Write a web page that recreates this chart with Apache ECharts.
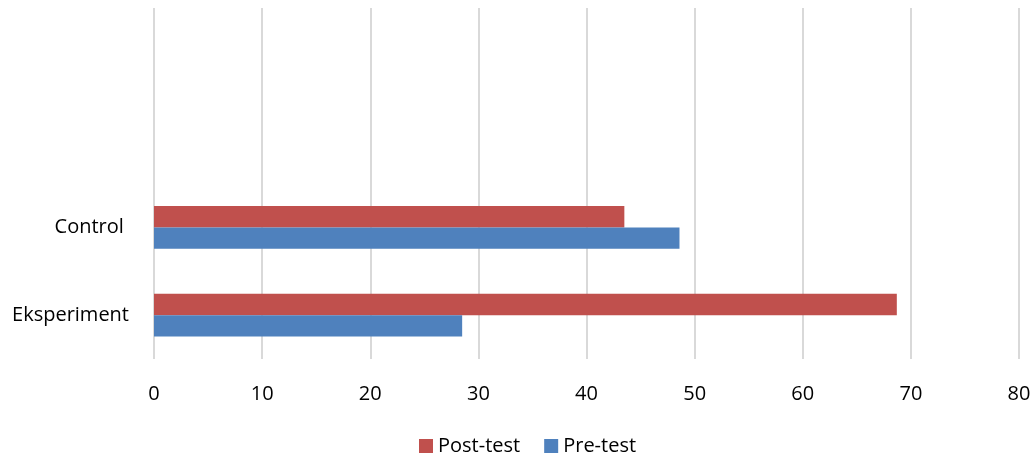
<!DOCTYPE html>
<html>
<head>
<meta charset="utf-8">
<script src="https://cdn.jsdelivr.net/npm/echarts@6/dist/echarts.min.js"></script>
<style>
html,body{margin:0;padding:0;background:#fff;}
#chart{width:1034px;height:457px;}
</style>
</head>
<body>
<div id="chart"></div>
<script>
const categories = ['Eksperiment', 'Control ', '', ''];
const seriesNames = ['Post-test', 'Pre-test'];
const postTest = [68.7, 43.5, null, null];
const preTest = [28.5, 48.6, null, null];
const xTicks = { min: 0, max: 80, interval: 10 };

const FONT = 'Open Sans';
const chart = echarts.init(document.getElementById('chart'), null, { renderer: 'canvas' });
chart.setOption({
  animation: false,
  backgroundColor: '#ffffff',
  textStyle: { fontFamily: FONT },
  grid: { left: 154, right: 15, top: 8, bottom: 98, containLabel: false },
  legend: {
    data: seriesNames,
    left: 414,
    top: 431,
    itemWidth: 14,
    itemHeight: 14,
    itemGap: 24,
    icon: 'rect',
    textStyle: { fontFamily: FONT, fontSize: 20, color: '#000', padding: [0, 0, 0, 0] }
  },
  xAxis: {
    type: 'value',
    min: xTicks.min,
    max: xTicks.max,
    interval: xTicks.interval,
    axisLine: { show: false },
    axisTick: { show: false },
    axisLabel: { fontFamily: FONT, fontSize: 20, color: '#000', margin: 25 },
    splitLine: { show: true, lineStyle: { color: '#d9d9d9', width: 2 } }
  },
  yAxis: {
    type: 'category',
    data: categories,
    axisLine: { show: false },
    axisTick: { show: false },
    axisLabel: { fontFamily: FONT, fontSize: 20, color: '#000', margin: 25, padding: [5, 0, 0, 0] },
    splitLine: { show: false }
  },
  series: [
    {
      name: seriesNames[0],
      type: 'bar',
      data: postTest,
      barGap: '0%',
      barCategoryGap: '51%',
      itemStyle: { color: '#c0504d' }
    },
    {
      name: seriesNames[1],
      type: 'bar',
      data: preTest,
      barGap: '0%',
      barCategoryGap: '51%',
      itemStyle: { color: '#4f81bd' }
    }
  ]
});
</script>
</body>
</html>
